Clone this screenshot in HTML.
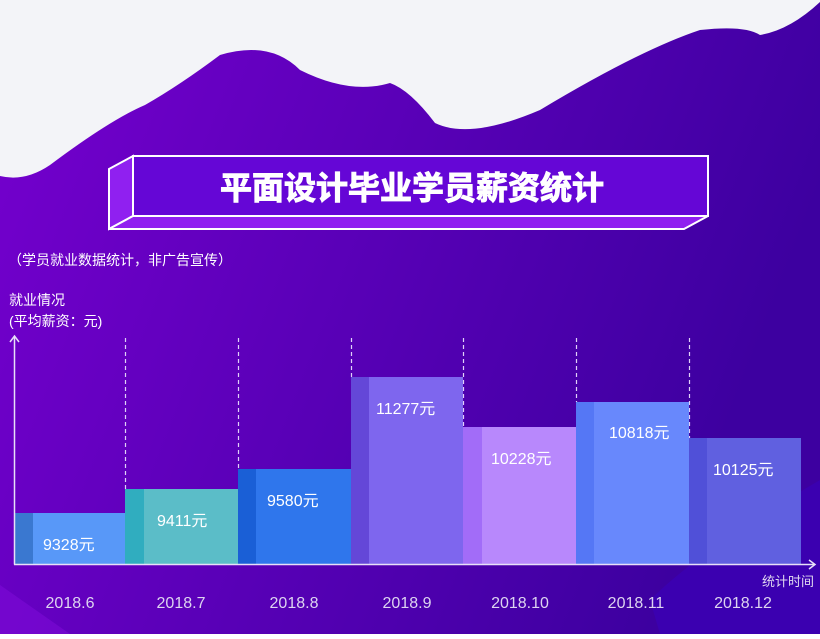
<!DOCTYPE html>
<html><head><meta charset="utf-8"><style>
body{margin:0;width:820px;height:634px;overflow:hidden;font-family:"Liberation Sans","Noto Sans CJK SC",sans-serif;}
</style></head><body>
<svg width="820" height="634" xmlns="http://www.w3.org/2000/svg" font-family="Liberation Sans, Noto Sans CJK SC, sans-serif">
<defs>
<linearGradient id="bg" x1="0" y1="0" x2="1" y2="0.3">
<stop offset="0" stop-color="#7600cf"/><stop offset="1" stop-color="#3d00a0"/>
</linearGradient>
</defs>
<rect width="820" height="634" fill="url(#bg)"/>
<path d="M0,585 L70,634 L0,634Z" fill="#8a10e0" opacity="0.4"/>
<path d="M650,600 Q700,550 820,480 L820,634 L660,634Z" fill="#3a00c0" opacity="0.5"/>
<path d="M0,0 L820,0 L820,2 Q790,30 760,35 Q745,25 700,30 Q640,50 540,110 Q470,140 435,123 Q410,90 390,83 Q350,95 300,70 Q270,40 220,55 Q180,85 145,105 Q110,120 50,165 Q25,182 0,176Z" fill="#f3f4f8"/>
<!-- title box -->
<polygon points="109,169 133,156 133,216 109,229" fill="#9020f0" stroke="#fff" stroke-width="2"/>
<polygon points="109,229 133,216 708,216 684,229" fill="#9020f0" stroke="#fff" stroke-width="2"/>
<rect x="133" y="156" width="575" height="60" fill="#6506d6" stroke="#fff" stroke-width="2"/>
<text x="412" y="199" text-anchor="middle" fill="#fff" font-size="32" font-weight="bold" stroke="#fff" stroke-width="1">平面设计毕业学员薪资统计</text>
<text x="8" y="265" fill="#fff" font-size="14">（学员就业数据统计，非广告宣传）</text>
<text x="9" y="305" fill="#fff" font-size="14">就业情况</text>
<text x="9" y="326" fill="#fff" font-size="14">(平均薪资：元)</text>
<!-- dashed lines -->
<g stroke="#e0d0f8" stroke-width="1.2" stroke-dasharray="4,3">
<line x1="125.5" y1="338" x2="125.5" y2="489"/>
<line x1="238.5" y1="338" x2="238.5" y2="469"/>
<line x1="351.5" y1="338" x2="351.5" y2="377"/>
<line x1="463.5" y1="338" x2="463.5" y2="427"/>
<line x1="576.5" y1="338" x2="576.5" y2="402"/>
<line x1="689.5" y1="338" x2="689.5" y2="438"/>
</g>
<!-- bars -->
<rect x="14" y="513" width="111" height="51" fill="#5898f8"/><rect x="14" y="513" width="19" height="51" fill="#3a78d0"/>
<rect x="125" y="489" width="113" height="75" fill="#5bbdc8"/><rect x="125" y="489" width="19" height="75" fill="#30adbf"/>
<rect x="238" y="469" width="113" height="95" fill="#2f76ec"/><rect x="238" y="469" width="18" height="95" fill="#1a5fd6"/>
<rect x="351" y="377" width="112" height="187" fill="#7e66ee"/><rect x="351" y="377" width="18" height="187" fill="#6447d8"/>
<rect x="463" y="427" width="113" height="137" fill="#b888fc"/><rect x="463" y="427" width="19" height="137" fill="#a26cf8"/>
<rect x="576" y="402" width="113" height="162" fill="#6888fc"/><rect x="576" y="402" width="18" height="162" fill="#5577f5"/>
<rect x="689" y="438" width="112" height="126" fill="#6060e0"/><rect x="689" y="438" width="18" height="126" fill="#5050d8"/>
<g fill="#fff" font-size="16">
<text x="43" y="550">9328元</text>
<text x="157" y="526">9411元</text>
<text x="267" y="506">9580元</text>
<text x="376" y="414">11277元</text>
<text x="491" y="464">10228元</text>
<text x="609" y="438">10818元</text>
<text x="713" y="475">10125元</text>
</g>
<!-- axes -->
<g stroke="#e8e0f8" stroke-width="1.5" fill="none">
<line x1="14.5" y1="336" x2="14.5" y2="564.5"/>
<polyline points="10,342 14.5,336 19,342"/>
<line x1="14" y1="564.5" x2="815" y2="564.5"/>
<polyline points="809,560 815,564.5 809,569"/>
</g>
<text x="762" y="586" fill="#e0d8f0" font-size="13">统计时间</text>
<g fill="#ddd4f0" font-size="16" text-anchor="middle">
<text x="70" y="608">2018.6</text>
<text x="181" y="608">2018.7</text>
<text x="294" y="608">2018.8</text>
<text x="407" y="608">2018.9</text>
<text x="520" y="608">2018.10</text>
<text x="636" y="608">2018.11</text>
<text x="743" y="608">2018.12</text>
</g>
</svg>
</body></html>
